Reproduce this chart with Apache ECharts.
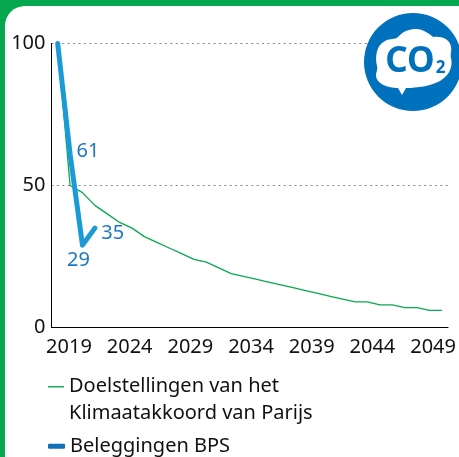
<!DOCTYPE html>
<html>
<head>
<meta charset="utf-8">
<script src="https://cdn.jsdelivr.net/npm/echarts@6/dist/echarts.min.js"></script>
<style>
  html, body { margin: 0; padding: 0; width: 459px; height: 457px; overflow: hidden; background: #05a84f; }
  #card { position: absolute; left: 4.5px; top: 6px; width: 475px; height: 480px; background: #fff; border-radius: 20px 20px 0 0; }
  #chart { position: absolute; left: 0; top: 0; width: 459px; height: 457px; }
</style>
</head>
<body>
<div id="card"></div>
<div id="chart"></div>
<script>
var years = ['2019','2020','2021','2022','2023','2024','2025','2026','2027','2028','2029','2030','2031','2032','2033','2034',
  '2035','2036','2037','2038','2039','2040','2041','2042','2043','2044','2045','2046','2047','2048','2049','2050'];
var doelstellingen = [100,50,47.5,43,40,37,35,32,30,28,26,24,23,21,19,18,17,16,15,14,13,12,11,10,9,9,8,8,7,7,6,6];
var beleggingen = [100,61,29,35];
var tickYears = [2019,2024,2029,2034,2039,2044,2049];

var nameGreen = 'Doelstellingen van het\nKlimaatakkoord van Parijs';
var nameBlue = 'Beleggingen BPS';
var fontName = '"Noto Sans", sans-serif';
var blueText = '#1f78be';

// labels next to the blue line
var blueLabels = {
  1: { position: 'right', distance: 6, offset: [0, -3] },
  2: { position: 'bottom', distance: 2, offset: [-4, 3] },
  3: { position: 'right', distance: 6, offset: [0, 5] }
};
var blueData = beleggingen.map(function (v, i) {
  if (!blueLabels[i]) return v;
  return { value: v, label: Object.assign({ show: true, color: blueText, fontSize: 20, fontFamily: fontName }, blueLabels[i]) };
});

// cloud of the CO2 badge
echarts.graphic.registerShape('co2cloud', echarts.graphic.extendPath(
  'M402 95L398 88C388 88 376 84 376 75C376 72 378 70 377 66C375 58 376 45 385 41C391 38 394 40 398 37C403 31 410 29 416 29C423 29 430 34 433 37C440 36 450 38 451 47C452 52 450 53 451 58C453 66 450 75 440 81C430 86 418 88 406 88Z', {}));

var legendText = { color: '#111', fontSize: 20, lineHeight: 26.5, fontFamily: fontName };

var myChart = echarts.init(document.getElementById('chart'));
var option = {
  animation: false,
  textStyle: { fontFamily: fontName },
  grid: { left: 51.5, top: 43.5, width: 397.5, height: 284 },
  xAxis: [{
    type: 'category',
    data: years,
    boundaryGap: true,
    axisLine: { lineStyle: { color: '#000', width: 1 } },
    axisTick: { show: false },
    axisLabel: { show: false }
  }, {
    // tick labels do not sit exactly under the points in the original
    type: 'value',
    position: 'bottom',
    min: 2017.56,
    max: 2050.23,
    axisLine: { show: false },
    axisTick: { show: false },
    splitLine: { show: false },
    axisLabel: {
      customValues: tickYears,
      color: '#111',
      fontSize: 20,
      fontFamily: fontName,
      margin: 10,
      formatter: function (v) { return String(v); }
    }
  }],
  yAxis: {
    type: 'value',
    min: 0,
    max: 100,
    interval: 50,
    axisLine: { show: true, lineStyle: { color: '#000', width: 1 } },
    axisTick: { show: false },
    axisLabel: { color: '#111', fontSize: 20, fontFamily: fontName, margin: 6, padding: [6, 0, 0, 0] },
    splitLine: { show: true, lineStyle: { color: '#888', width: 1, type: [2, 3.4] } }
  },
  legend: [{
    left: 48,
    top: 347,
    itemWidth: 16,
    itemHeight: 1.4,
    itemGap: 0,
    padding: 0,
    icon: 'rect',
    selectedMode: false,
    data: [nameGreen],
    // the empty first line keeps the key level with the first text line
    formatter: function (name) { return '\n' + name; },
    textStyle: legendText
  }, {
    left: 48,
    top: 433,
    itemWidth: 17,
    itemHeight: 5,
    itemGap: 0,
    padding: 0,
    icon: 'roundRect',
    selectedMode: false,
    data: [nameBlue],
    itemStyle: { color: '#1270b8' },
    textStyle: legendText
  }],
  series: [{
    name: nameGreen,
    type: 'line',
    data: doelstellingen,
    symbol: 'none',
    z: 2,
    lineStyle: { color: '#0aa84f', width: 1.3 },
    itemStyle: { color: '#0aa84f' }
  }, {
    name: nameBlue,
    type: 'line',
    data: blueData,
    symbol: 'circle',
    symbolSize: 1,
    showAllSymbol: true,
    z: 3,
    lineStyle: { color: '#1a9bd7', width: 5, cap: 'round', join: 'round' },
    itemStyle: { color: '#1a9bd7' }
  }],
  graphic: [
    { type: 'circle', z: 10, shape: { cx: 413, cy: 62, r: 49 }, style: { fill: '#0071bc' } },
    { type: 'co2cloud', z: 11, style: { fill: '#fff' } },
    { type: 'text', z: 12, x: 410, y: 62, style: { text: 'CO', fill: '#0071bc', font: 'bold 35px "Noto Sans"', textAlign: 'center', textVerticalAlign: 'middle' } },
    { type: 'text', z: 12, x: 440.5, y: 68, style: { text: '2', fill: '#0071bc', font: 'bold 17px "Noto Sans"', textAlign: 'center', textVerticalAlign: 'middle' } }
  ]
};
myChart.setOption(option);
</script>
</body>
</html>
